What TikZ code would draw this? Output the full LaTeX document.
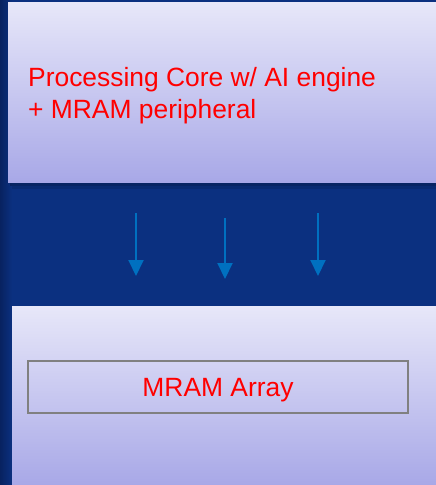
\documentclass[tikz,border=0pt]{standalone}
\usepackage{fontspec}
\setmainfont{Liberation Sans}
\usepackage{xcolor}
\usetikzlibrary{arrows.meta, positioning}

\definecolor{bgblue}{RGB}{11,48,128}
\definecolor{bgdark}{RGB}{8,34,96}
\definecolor{boxtop}{RGB}{231,231,249}
\definecolor{boxbot}{RGB}{168,168,231}
\definecolor{flowblue}{RGB}{0,112,192}
\definecolor{framegray}{RGB}{128,128,128}

\begin{document}
\begin{tikzpicture}[x=1pt, y=-1pt,
  every node/.style={font=\fontsize{26.4}{32}\selectfont, text=red},
  panel/.style={top color=boxtop, bottom color=boxbot, draw=none},
  flow/.style={-{Triangle[width=15pt,length=16pt]}, draw=flowblue, line width=2pt}]
  % ---------- BACKGROUND ----------
  \fill[bgblue] (0,0) rectangle (436,485);
  \shade[left color=bgdark, right color=bgblue] (0,0) rectangle (12,485);
  \useasboundingbox (0,0) rectangle (436,485);
  % ---------- TOP PANEL: core ----------
  \fill[black, opacity=0.22] (10,182) rectangle (436,186);
  \fill[black, opacity=0.10] (12,186) rectangle (436,189);
  \node[panel, minimum width=428pt, minimum height=180pt, inner sep=0pt, anchor=north west]
    (core) at (8,2) {};
  \node[anchor=base west, align=left, inner sep=0pt] (coretext) at (28,118)
    {Processing Core w/ AI engine\\+ MRAM peripheral};
  % ---------- ARROWS ----------
  \coordinate (a1s) at (136,213); \coordinate (a1e) at (136,276);
  \coordinate (a2s) at (225,218); \coordinate (a2e) at (225,279);
  \coordinate (a3s) at (318,213); \coordinate (a3e) at (318,276);
  \foreach \i in {1,2,3} \draw[flow] (a\i s) -- (a\i e);
  % ---------- BOTTOM PANEL: array ----------
  \node[panel, minimum width=424pt, minimum height=179pt, inner sep=0pt, anchor=north west]
    (array) at (12,306) {};
  \node[draw=framegray, line width=1.5pt, minimum width=380pt, minimum height=52pt,
    inner sep=0pt, text height=19pt, text depth=0pt] (mram) at (218,387) {MRAM Array};
\end{tikzpicture}
\end{document}
